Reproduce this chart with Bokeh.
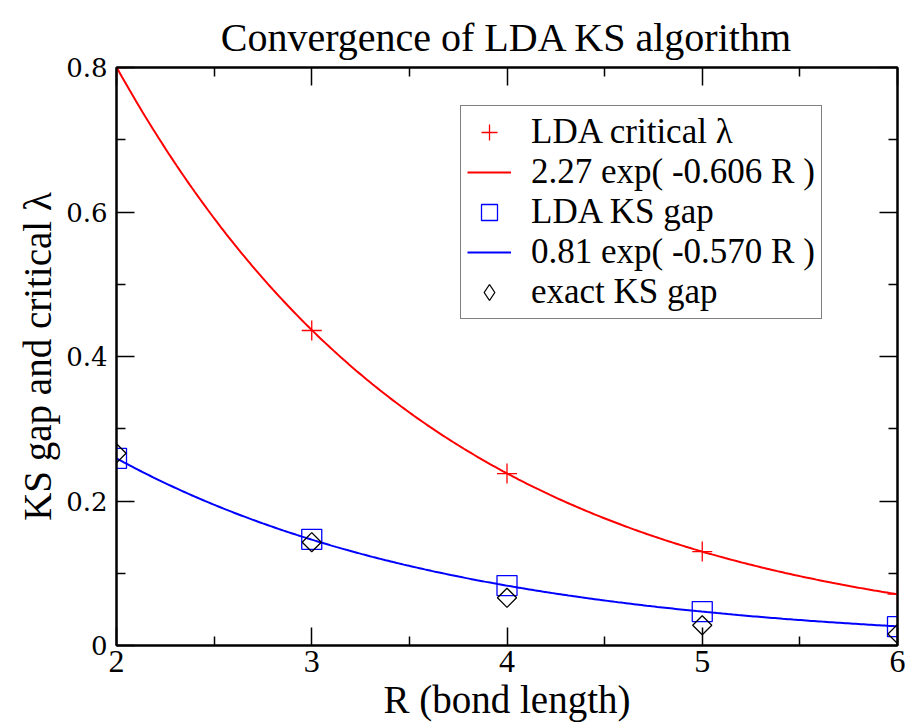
import numpy as np
from bokeh.plotting import figure
from bokeh.models import (LinearAxis, FixedTicker, CustomJSTickFormatter, Legend,
                          LegendItem, Range1d, ColumnDataSource, Title)
from bokeh.embed import file_html
from bokeh.resources import INLINE

# ---- data ----
R = [2, 3, 4, 5, 6]
lda_critical = [0.800, 0.436, 0.238, 0.130, 0.071]
lda_ks_gap = [0.259, 0.147, 0.083, 0.047, 0.026]
exact_ks_gap = [0.266, 0.143, 0.066, 0.028, 0.016]

# fitted curves: amplitude, rate (as drawn)
red_fit = [2.69, -0.606]
blue_fit = [0.81, -0.570]

x_ticks = [2, 3, 4, 5, 6]
x_minor = [2.5, 3.5, 4.5, 5.5]
y_ticks = [0, 0.2, 0.4, 0.6, 0.8]
y_minor = [0.1, 0.3, 0.5, 0.7]

TITLE_FONT = "'Liberation Serif', 'Times New Roman', Times, 'DejaVu Serif', serif"
XTICK_FONT = "'Liberation Serif', 'DejaVu Serif', serif"
YTICK_FONT = "DejaVu Serif"
LEGEND_FONT = "'Liberation Serif', 'Nimbus Roman', serif"
XLAB_FONT = "'Liberation Serif', 'Tinos', serif"
YLAB_FONT = "'Liberation Serif', 'Times New Roman', serif"

p = figure(width=905, height=724, output_backend="svg", toolbar_location=None,
           x_range=Range1d(2, 6), y_range=Range1d(0, 0.8),
           min_border_left=116, min_border_right=8, min_border_top=67,
           min_border_bottom=79)
p.background_fill_color = "white"
p.border_fill_color = "white"
p.outline_line_color = "black"
p.outline_line_width = 2
p.xgrid.visible = False
p.ygrid.visible = False

p.title.text = "Convergence of LDA KS algorithm"
p.title.text_font = TITLE_FONT
p.title.text_font_size = "40px"
p.title.text_font_style = "normal"
p.title.text_color = "black"
p.title.align = "center"
p.title.standoff = 16

xs = np.linspace(2, 6, 300)
src_red = ColumnDataSource(dict(x=xs, y=red_fit[0] * np.exp(red_fit[1] * xs)))
src_blue = ColumnDataSource(dict(x=xs, y=blue_fit[0] * np.exp(blue_fit[1] * xs)))

r_line = p.line("x", "y", source=src_red, line_color="#ff0000", line_width=2)
b_line = p.line("x", "y", source=src_blue, line_color="#0000ff", line_width=2)

r_pts = p.scatter(R, lda_critical, marker="cross", size=20, line_color="#ff0000",
                  line_width=1.3)
b_pts = p.scatter(R, lda_ks_gap, marker="square", size=20, line_color="#0000ff",
                  fill_color=None, line_width=1.3)
k_pts = p.scatter(R, exact_ks_gap, marker="square", size=13.5, angle=np.pi / 4,
                  line_color="black", fill_color=None, line_width=1.3)
# legend-only twin of the diamond series (legend markers ignore the angle)
k_leg = p.scatter(R, exact_ks_gap, marker="diamond", size=20, line_color="black",
                  fill_color=None, line_width=1.3, visible=False)


def style_axis(ax, font, size="32px", labels=True):
    ax.axis_line_width = 2
    ax.major_tick_line_width = 1.5
    ax.minor_tick_line_width = 1.5
    ax.major_tick_in = 18
    ax.major_tick_out = 0
    ax.minor_tick_in = 9
    ax.minor_tick_out = 0
    ax.major_label_text_font = font
    ax.major_label_text_font_size = size
    ax.major_label_text_font_style = "normal"
    ax.major_label_text_color = "black"
    if not labels:
        ax.formatter = CustomJSTickFormatter(code="return ''")
        ax.major_label_text_font_size = "1px"
        ax.major_label_standoff = 0


xa = p.xaxis[0]
xa.ticker = FixedTicker(ticks=x_ticks, minor_ticks=x_minor)
xa.formatter = CustomJSTickFormatter(code="return String(tick)")
style_axis(xa, XTICK_FONT)
xa.major_label_standoff = 5

ya = p.yaxis[0]
ya.ticker = FixedTicker(ticks=y_ticks, minor_ticks=y_minor)
ya.formatter = CustomJSTickFormatter(code="return String(Math.round(tick*10)/10)")
style_axis(ya, YTICK_FONT, size="26px")
ya.major_label_standoff = 9

top = LinearAxis(ticker=FixedTicker(ticks=x_ticks, minor_ticks=x_minor))
style_axis(top, YTICK_FONT, labels=False)
p.add_layout(top, "above")
right = LinearAxis(ticker=FixedTicker(ticks=y_ticks, minor_ticks=y_minor))
style_axis(right, YTICK_FONT, labels=False)
p.add_layout(right, "right")

# axis titles as Title annotations
xlab = Title(text="R (bond length)", align="center", text_font=XLAB_FONT,
             text_font_size="39px", text_font_style="normal", text_color="black",
             standoff=2)
p.add_layout(xlab, "below")
ylab = Title(text="KS gap and critical λ", align="center", text_font=YLAB_FONT,
             text_font_size="39px", text_font_style="normal", text_color="black",
             standoff=10)
p.add_layout(ylab, "left")

legend = Legend(items=[
    LegendItem(label="LDA critical λ", renderers=[r_pts]),
    LegendItem(label="2.27 exp( -0.606 R )", renderers=[r_line]),
    LegendItem(label="LDA KS gap", renderers=[b_pts]),
    LegendItem(label="0.81 exp( -0.570 R )", renderers=[b_line]),
    LegendItem(label="exact KS gap", renderers=[k_leg]),
], location=(344, 326))
legend.label_text_font = LEGEND_FONT
legend.label_text_font_size = "35px"
legend.label_text_font_style = "normal"
legend.label_text_color = "black"
legend.glyph_width = 44
legend.glyph_height = 40
legend.label_height = 20
legend.label_standoff = 20
legend.spacing = 0
legend.padding = 6
legend.margin = 0
legend.border_line_color = "black"
legend.border_line_width = 1.5
legend.background_fill_color = "white"
legend.background_fill_alpha = 1
legend.inactive_fill_alpha = 0
p.add_layout(legend, "center")

open("out.html", "w").write(file_html(p, INLINE))
